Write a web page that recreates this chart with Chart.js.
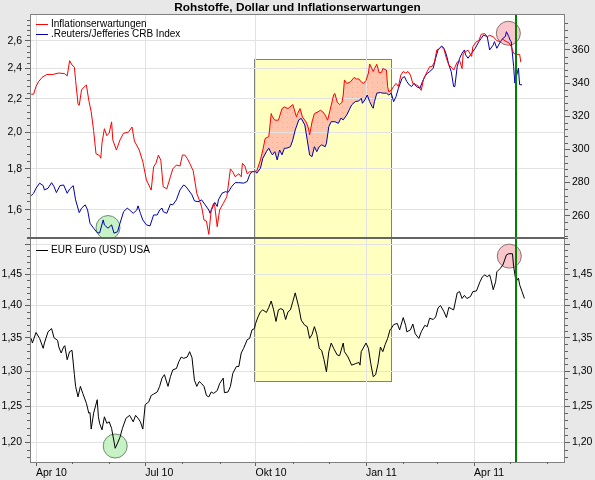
<!DOCTYPE html>
<html>
<head>
<meta charset="utf-8">
<script src="https://cdn.jsdelivr.net/npm/chart.js@4.4.1/dist/chart.umd.min.js"></script>
<style>
  html, body { margin: 0; padding: 0; background: #e8e8e8; }
  canvas { display: block; }
</style>
</head>
<body>
<canvas id="chart" width="595" height="480"></canvas>
<script>
// x values are days counted from 1 Apr 2010
const inflDays = [-4,-2,0,2,5,9,14,19,24,26,28,30,32,33,35,36,38,42,44,46,48,50,53,54,55,57,59,61,63,64,67,70,73,77,80,82,86,89,92,96,98,100,102,104,106,109,112,114,117,120,122,124,126,128,131,134,136,138,140,142,144,146,148,149,151,153,156,159,162,164,166,169,171,172,174,176,178,181,184,187,189,191,194,196,197,199,202,205,207,210,214,217,218,220,222,225,227,228,230,232,235,237,239,241,243,245,248,249,251,253,255,256,257,259,262,264,265,267,269,271,273,275,277,278,281,282,284,286,288,289,292,293,294,296,298,300,302,304,306,308,310,312,314,317,319,321,323,326,328,330,332,334,336,338,340,342,344,346,348,351,353,355,356,358,360,363,364,367,369,371,374,376,378,381,384,387,389,392,394,396,398,400,403,404];
const inflValues = [2.23,2.23,2.28,2.31,2.34,2.36,2.36,2.37,2.365,2.35,2.455,2.425,2.41,2.32,2.17,2.16,2.26,2.29,2.19,2.12,2.01,1.88,1.87,1.856,1.94,2.02,1.98,1.995,2.06,1.956,1.90,1.956,1.994,2.00,2.03,1.95,1.90,1.838,1.744,1.694,1.81,1.83,1.873,1.845,1.71,1.70,1.76,1.80,1.82,1.815,1.873,1.873,1.855,1.83,1.79,1.678,1.647,1.615,1.555,1.55,1.492,1.60,1.631,1.615,1.525,1.60,1.63,1.662,1.80,1.785,1.76,1.775,1.76,1.829,1.815,1.775,1.785,1.785,1.79,1.847,1.90,1.965,1.975,2.11,2.09,2.07,2.07,2.14,2.15,2.14,2.165,2.09,2.11,2.14,2.09,2.06,2.025,1.984,2.06,2.11,2.12,2.13,2.12,2.10,2.07,2.13,2.225,2.235,2.18,2.165,2.18,2.225,2.323,2.30,2.31,2.33,2.34,2.33,2.33,2.31,2.30,2.32,2.37,2.432,2.38,2.40,2.43,2.37,2.375,2.40,2.39,2.279,2.246,2.255,2.28,2.30,2.28,2.356,2.38,2.37,2.38,2.356,2.30,2.29,2.28,2.255,2.33,2.38,2.413,2.413,2.445,2.532,2.54,2.556,2.535,2.472,2.425,2.41,2.39,2.445,2.455,2.40,2.508,2.52,2.53,2.485,2.556,2.593,2.60,2.648,2.653,2.63,2.64,2.63,2.60,2.593,2.61,2.593,2.585,2.556,2.508,2.50,2.50,2.445];

const crbDays = [-4,-2,0,3,6,7,10,13,15,17,20,23,26,28,31,33,36,38,41,43,45,48,51,53,56,57,60,63,65,68,70,73,76,78,81,84,85,87,89,92,95,98,101,103,105,106,109,112,114,117,120,123,125,127,130,132,135,138,141,144,145,148,149,151,152,155,158,160,163,166,169,173,176,178,180,183,184,187,189,192,194,196,197,199,201,203,205,207,209,212,214,216,219,221,224,226,228,230,232,234,236,238,241,242,244,246,249,252,254,256,259,261,263,266,269,271,272,274,276,278,280,281,282,284,287,289,292,294,296,298,300,302,305,307,309,311,313,315,317,320,322,324,326,328,331,333,335,338,340,342,344,346,348,349,351,353,355,357,358,360,363,366,369,371,373,376,378,381,382,384,387,389,391,392,394,395,396,398,399,401,402,403,405];
const crbValues = [272.1,273.5,276.5,279.6,278.1,275.5,276.5,279.9,277.5,273.9,278.1,278.5,273.5,276,278.1,269.5,261.8,264.5,266.5,263.4,255.4,252.4,249.7,249.5,257.4,254.4,252.4,254.4,249.4,250.3,255.4,262.4,264.5,263.4,261.4,263.4,265.9,261.4,257.4,254.4,253.8,260.4,260.4,263.4,264.5,262.4,261.4,266.9,266.5,269.5,275.5,278.5,277.5,275.5,272.5,268.9,268.4,269.5,266.5,263.4,261.4,266.5,267.9,265.5,269.5,273.5,274.5,273.9,277.5,279.9,279.9,279.6,280.6,284.6,286.6,286.6,285.6,288.6,294.6,298.6,300.7,297.7,296.7,298.6,293.6,299.6,296.7,300.7,300.7,301.6,305.7,311.7,317.8,318.7,314.7,305.7,296.6,295.6,301.6,298.6,301.6,302.7,301.6,303.7,313.7,316.7,316.7,315.7,318.8,317.8,320.8,323.8,326.8,328.8,329.2,330.8,327.8,329.8,332.8,328.8,325.8,324.8,328.8,333.9,334.3,333.9,333.9,332.8,333.9,328.8,331.8,336.9,342.9,343.9,340.9,338.9,337.9,339.9,337.9,336.9,340.9,343.9,345.9,346.9,348.9,355,360,362.4,361,357,351,346.9,337.9,337.9,350,355,358,360,357,355,358,361,365,367,369,368,360,363,365,361,365,367,368,371,368,366,365,350,340,346,349,339,339];

const eurDays = [-4,-3,0,3,6,7,10,13,15,18,19,21,23,24,26,28,30,32,33,35,37,39,42,44,45,46,48,51,52,53,55,57,59,61,63,64,66,68,70,72,75,78,81,83,85,87,89,91,94,96,98,101,103,105,107,110,112,114,117,119,121,123,126,128,130,132,134,136,138,140,142,144,146,148,151,153,156,157,160,162,164,167,169,171,173,176,178,180,182,183,185,187,189,192,194,196,198,200,202,204,206,208,210,212,214,216,219,221,224,226,228,230,232,234,236,238,240,242,244,246,248,251,253,256,257,260,263,266,269,270,271,275,277,279,281,283,285,287,289,291,293,295,296,298,301,303,306,308,309,312,314,316,319,321,324,326,328,331,333,335,337,340,342,344,346,348,351,353,355,357,359,362,364,367,370,372,374,376,378,379,381,383,384,387,389,392,394,397,398,400,402,403,405,407];
const eurValues = [1.349,1.342,1.358,1.349,1.334,1.342,1.359,1.364,1.350,1.346,1.336,1.327,1.336,1.338,1.317,1.329,1.331,1.295,1.278,1.263,1.278,1.268,1.254,1.240,1.241,1.218,1.240,1.259,1.235,1.226,1.217,1.235,1.226,1.228,1.219,1.210,1.192,1.199,1.207,1.219,1.233,1.237,1.228,1.237,1.233,1.228,1.218,1.252,1.256,1.265,1.267,1.270,1.278,1.290,1.295,1.278,1.292,1.302,1.304,1.314,1.321,1.319,1.321,1.329,1.320,1.287,1.278,1.285,1.282,1.278,1.265,1.263,1.270,1.268,1.272,1.282,1.290,1.269,1.270,1.278,1.297,1.307,1.307,1.327,1.334,1.347,1.349,1.362,1.364,1.372,1.382,1.390,1.393,1.389,1.397,1.407,1.393,1.375,1.393,1.395,1.393,1.378,1.390,1.393,1.406,1.420,1.397,1.377,1.369,1.367,1.349,1.355,1.367,1.355,1.334,1.331,1.317,1.299,1.329,1.342,1.334,1.324,1.323,1.342,1.329,1.321,1.309,1.311,1.313,1.309,1.329,1.342,1.334,1.311,1.292,1.295,1.311,1.336,1.329,1.340,1.349,1.362,1.364,1.370,1.372,1.362,1.381,1.369,1.359,1.362,1.371,1.356,1.349,1.359,1.369,1.367,1.380,1.378,1.382,1.396,1.400,1.390,1.381,1.397,1.395,1.393,1.420,1.422,1.411,1.416,1.411,1.414,1.422,1.423,1.438,1.446,1.449,1.446,1.449,1.442,1.425,1.438,1.454,1.460,1.465,1.482,1.484,1.484,1.463,1.438,1.444,1.433,1.422,1.411];

const monthDays = [0, 30, 61, 91, 122, 153, 183, 214, 244, 275, 306, 334, 365, 395, 426];
const quarterDays = [0, 91, 183, 275, 365];
const quarterLabels = ["Apr 10", "Jul 10", "Okt 10", "Jan 11", "Apr 11"];

const inflTicks = [1.6, 1.8, 2.0, 2.2, 2.4, 2.6];
const crbTicks = [260, 280, 300, 320, 340, 360];
const eurTicks = [1.2, 1.25, 1.3, 1.35, 1.4, 1.45, 1.5];

// highlighted period and marker circles
const boxDays = [182, 296];
const boxInflTop = 2.467;
const boxEurBottom = 1.286;
const markerDay = 400;
const circleDays = [60, 66, 393.6, 394.4];
const circleValues = [252.8, 1.195, 2.656, 1.48];
const circleAxes = ["yCrb", "yEur", "yInf", "yEur"];

const FONT = "'Liberation Sans', Arial, sans-serif";
const tickFont = { family: FONT, size: 10.5 };

function points(days, values) {
  return days.map((d, i) => ({ x: d, y: values[i] }));
}

function fixedTicks(values) {
  return (scale) => { scale.ticks = values.map((v) => ({ value: v })); };
}

function dotPattern(ctx) {
  const c = document.createElement("canvas");
  c.width = 5; c.height = 5;
  const p = c.getContext("2d");
  p.fillStyle = "#ffc4ac";
  p.fillRect(0, 0, 5, 5);
  p.fillStyle = "#f6ae98";
  p.fillRect(2, 2, 1, 1);
  return ctx.createPattern(c, "repeat");
}

// background, yellow period box and shaded gap between red and blue
const backdrop = {
  id: "backdrop",
  beforeDraw(chart) {
    const { ctx, chartArea: a, scales } = chart;
    const x = scales.x, yInf = scales.yInf, yCrb = scales.yCrb, yEur = scales.yEur;
    ctx.save();
    ctx.fillStyle = "#e8e8e8";
    ctx.fillRect(0, 0, chart.width, chart.height);
    ctx.fillStyle = "#ffffff";
    ctx.fillRect(a.left, a.top, a.width, a.height);

    const bx1 = Math.round(x.getPixelForValue(boxDays[0]));
    const bx2 = Math.round(x.getPixelForValue(boxDays[1]));
    const by1 = Math.round(yInf.getPixelForValue(boxInflTop));
    const by2 = Math.round(yEur.getPixelForValue(boxEurBottom));
    ctx.fillStyle = "#ffffc0";
    ctx.fillRect(bx1, by1, bx2 - bx1, by2 - by1);
    ctx.strokeStyle = "#808080";
    ctx.lineWidth = 1;
    ctx.strokeRect(bx1 + 0.5, by1 + 0.5, bx2 - bx1, by2 - by1);

    ctx.beginPath();
    ctx.rect(bx1 + 1, yInf.top, bx2 - bx1 - 1, yInf.bottom - yInf.top);
    ctx.clip();
    ctx.beginPath();
    inflDays.forEach((d, i) => {
      const px = x.getPixelForValue(d), py = yInf.getPixelForValue(inflValues[i]);
      if (i) ctx.lineTo(px, py); else ctx.moveTo(px, py);
    });
    for (let i = crbDays.length - 1; i >= 0; i--) {
      ctx.lineTo(x.getPixelForValue(crbDays[i]), yCrb.getPixelForValue(crbValues[i]));
    }
    ctx.closePath();
    ctx.fillStyle = dotPattern(ctx);
    ctx.fill();
    ctx.restore();
  },
};

function minorValues(from, to, step, every) {
  const out = [];
  for (let k = Math.ceil(from / step); k * step <= to; k++) {
    if (k % every !== 0) out.push(k * step);
  }
  return out;
}

// frame, separator, marker line, minor ticks and legends
const overlay = {
  id: "overlay",
  afterDatasetsDraw(chart) {
    const { ctx, chartArea: a, scales } = chart;
    const x = scales.x;
    ctx.save();

    const gx = Math.round(x.getPixelForValue(markerDay));
    ctx.fillStyle = "#008000";
    ctx.fillRect(gx - 1, a.top, 2, a.bottom - a.top);

    ctx.strokeStyle = "#808080";
    ctx.lineWidth = 1;
    ctx.strokeRect(a.left + 0.5, a.top + 0.5, a.width - 1, a.height);
    ctx.fillStyle = "#646464";
    ctx.fillRect(a.left, Math.round(scales.yEur.top) - 1, a.width, 2);

    ctx.strokeStyle = "#606060";
    ctx.beginPath();
    monthDays.filter((d) => !quarterDays.includes(d)).forEach((d) => {
      const px = Math.round(x.getPixelForValue(d)) + 0.5;
      ctx.moveTo(px, a.bottom);
      ctx.lineTo(px, a.bottom + 2);
    });
    const minors = [
      ["yInf", minorValues(1.48, 2.8, 0.04, 5), -1],
      ["yCrb", minorValues(248, 380, 4, 5), 1],
      ["yEur", minorValues(1.18, 1.51, 0.01, 5), -1],
      ["yEurR", minorValues(1.18, 1.51, 0.01, 5), 1],
    ];
    minors.forEach(([id, vals, dir]) => {
      const s = scales[id];
      vals.forEach((v) => {
        const py = Math.round(s.getPixelForValue(v)) + 0.5;
        if (py < s.top || py > s.bottom) return;
        const x0 = dir < 0 ? a.left : a.right;
        ctx.moveTo(x0, py);
        ctx.lineTo(x0 + dir * 3, py);
      });
    });
    ctx.stroke();

    const legends = [
      ["Inflationserwartungen", "#ff0000", a.top + 10],
      [".Reuters/Jefferies CRB Index", "#0000b0", a.top + 20.5],
      ["EUR Euro (USD) USA", "#000000", scales.yEur.top + 12],
    ];
    ctx.font = "10px " + FONT;
    ctx.textBaseline = "middle";
    legends.forEach(([text, color, y]) => {
      ctx.fillStyle = color;
      ctx.fillRect(a.left + 6, Math.round(y), 12, 1);
      ctx.fillStyle = "#000";
      ctx.fillText(text, a.left + 21, Math.round(y) + 0.5);
    });
    ctx.restore();
  },
};

function leftAxis(ticks, format, weight, min, max, type) {
  return {
    type, position: "left", stack: "left", weight, min, max,
    afterBuildTicks: fixedTicks(ticks),
    afterFit: (s) => { s.width = 30; },
    border: { display: false },
    grid: { color: "#e2e2e2", tickColor: "#606060", tickLength: 5 },
    ticks: { font: tickFont, color: "#000", padding: 3, autoSkip: false, callback: format },
  };
}

function rightAxis(ticks, format, weight, min, max, type) {
  return {
    type, position: "right", stack: "right", weight, min, max,
    afterBuildTicks: fixedTicks(ticks),
    afterFit: (s) => { s.width = 30; },
    border: { display: false },
    grid: { drawOnChartArea: false, tickColor: "#606060", tickLength: 5 },
    ticks: { font: tickFont, color: "#000", padding: 2, autoSkip: false, callback: format },
  };
}

const fmt1 = (v) => v.toFixed(1).replace(".", ",");
const fmt2 = (v) => (v >= 1.5 ? "" : v.toFixed(2).replace(".", ","));
const fmt0 = (v) => String(v);

const circleStyles = [
  ["#c6f2c6", "#6e8c6e"],
  ["#c6f2c6", "#6e8c6e"],
  ["#f9c6cc", "#8c7070"],
  ["#f9c6cc", "#8c7070"],
];

const circleSets = circleDays.map((d, i) => ({
  type: "scatter",
  data: [{ x: d, y: circleValues[i] }],
  yAxisID: circleAxes[i],
  pointRadius: 12,
  pointBackgroundColor: circleStyles[i][0],
  pointBorderColor: circleStyles[i][1],
  pointBorderWidth: 1,
  order: 10,
}));

const lineStyle = { borderWidth: 1, pointRadius: 0, tension: 0, fill: false };

new Chart(document.getElementById("chart"), {
  type: "line",
  data: {
    datasets: [
      { ...lineStyle, label: "Inflationserwartungen", data: points(inflDays, inflValues), yAxisID: "yInf", borderColor: "#ff0000", order: 1 },
      { ...lineStyle, label: ".Reuters/Jefferies CRB Index", data: points(crbDays, crbValues), yAxisID: "yCrb", borderColor: "#0000b0", order: 2 },
      { ...lineStyle, label: "EUR Euro (USD) USA", data: points(eurDays, eurValues), yAxisID: "yEur", borderColor: "#000000", order: 1 },
      ...circleSets,
    ],
  },
  options: {
    responsive: false,
    animation: false,
    devicePixelRatio: 1,
    events: [],
    layout: { padding: 0 },
    plugins: {
      legend: { display: false },
      tooltip: { enabled: false },
      title: {
        display: true,
        text: "Rohstoffe, Dollar und Inflationserwartungen",
        color: "#000",
        font: { family: FONT, size: 11.8, weight: "bold", lineHeight: 1.1 },
        padding: { top: 1, bottom: 0 },
      },
    },
    scales: {
      x: {
        type: "linear", min: -5, max: 440.8,
        afterBuildTicks: fixedTicks(quarterDays),
        afterFit: (s) => { s.height = 18; },
        border: { display: false },
        grid: { color: "#e2e2e2", tickColor: "#606060", tickLength: 4 },
        ticks: {
          font: tickFont, color: "#000", align: "start", padding: 1, maxRotation: 0, autoSkip: false,
          callback: (v) => quarterLabels[quarterDays.indexOf(v)] || "",
        },
      },
      yInf: leftAxis(inflTicks, fmt1, 1, 1.4765, 2.807, "logarithmic"),
      yEur: leftAxis(eurTicks, fmt2, 0, 1.1737, 1.5105, "logarithmic"),
      yCrb: rightAxis(crbTicks, fmt0, 0, 246.5, 381.7, "linear"),
      yEurR: rightAxis(eurTicks, fmt2, 1, 1.1737, 1.5105, "logarithmic"),
    },
  },
  plugins: [backdrop, overlay],
});
</script>
</body>
</html>
